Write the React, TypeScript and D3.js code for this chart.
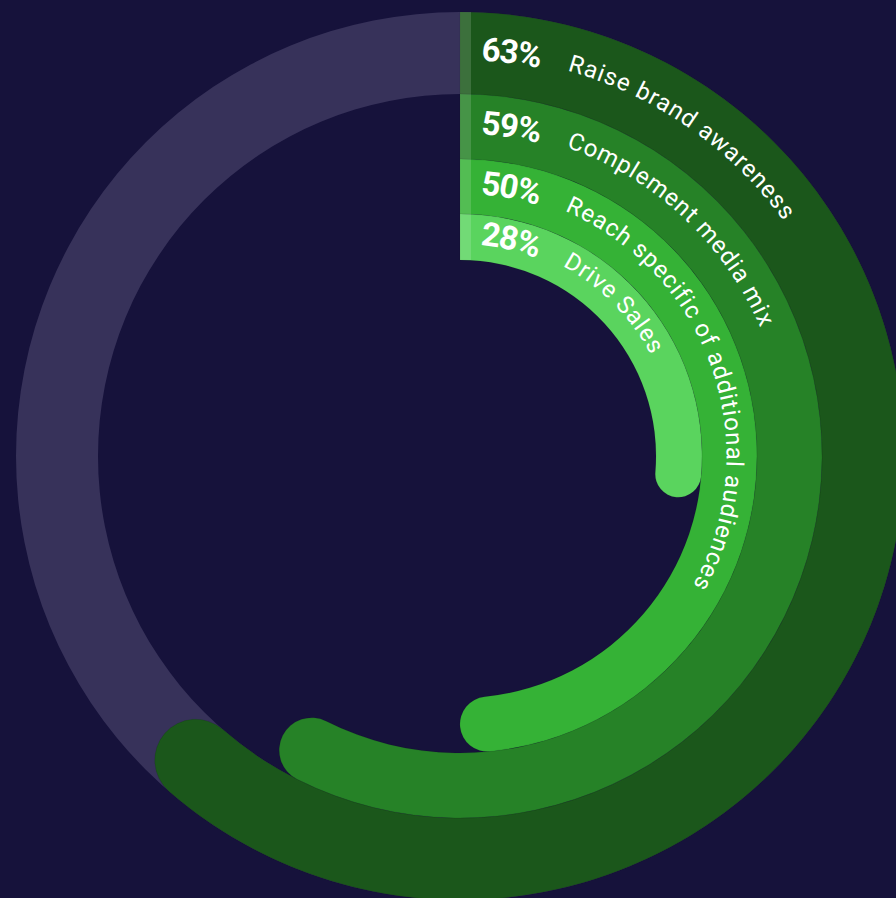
import React from "react";
import * as d3 from "d3";

// Objectives and the share of respondents choosing each one
const objectives = [
  "Raise brand awareness",
  "Complement media mix",
  "Reach specific of additional audiences",
  "Drive Sales",
];
const shares = [63, 59, 50, 28];
const ringColors = ["#1b571b", "#268227", "#35b236", "#5ad45e"];

// Geometry of the concentric bands
const WIDTH = 896;
const HEIGHT = 898;
const CX = 460;
const CY = 456;
const bandOuter = [444, 362, 297, 242];
const bandInner = [362, 297, 242, 196];

const BG = "#16123b";
const TRACK = "#37325a";

const angle = d3.scaleLinear().domain([0, 100]).range([0, 2 * Math.PI]);

// Band that starts flat at 12 o'clock and ends with a round cap inside its angle
function bandPath(inner: number, outer: number, value: number): string {
  const mid = (inner + outer) / 2;
  const half = (outer - inner) / 2;
  const end = angle(value) - half / mid;
  const phi0 = -Math.PI / 2;
  const phi1 = end - Math.PI / 2;
  const p = d3.path();
  p.moveTo(CX + outer * Math.cos(phi0), CY + outer * Math.sin(phi0));
  p.arc(CX, CY, outer, phi0, phi1, false);
  const capX = CX + mid * Math.cos(phi1);
  const capY = CY + mid * Math.sin(phi1);
  p.arc(capX, capY, half, phi1, phi1 + Math.PI, false);
  p.arc(CX, CY, inner, phi1, phi0, true);
  p.closePath();
  return p.toString();
}

function textPath(r: number): string {
  const p = d3.path();
  p.moveTo(CX, CY - r);
  p.arc(CX, CY, r, -Math.PI / 2, -Math.PI / 2 + 1.9 * Math.PI, false);
  return p.toString();
}

export default function App() {
  const track = d3
    .arc<any>()
    .innerRadius(bandInner[0])
    .outerRadius(bandOuter[0])
    .startAngle(0)
    .endAngle(2 * Math.PI);

  return (
    <svg
      width={WIDTH}
      height={HEIGHT}
      style={{ position: "absolute", left: 0, top: 0, display: "block" }}
    >
      <rect x={0} y={0} width={WIDTH} height={HEIGHT} fill={BG} />
      <path d={track({}) || ""} transform={`translate(${CX},${CY})`} fill={TRACK} />
      <defs>
        {shares.map((_, i) => (
          <path
            key={i}
            id={`label-path-${i}`}
            d={textPath((bandInner[i] + bandOuter[i]) / 2 + 5)}
            fill="none"
          />
        ))}
      </defs>
      {shares.map((v, i) => (
        <g key={i}>
          <path
            d={bandPath(bandInner[i], bandOuter[i], v)}
            fill={ringColors[i]}
            stroke="rgba(0,0,0,0.14)"
            strokeWidth={0.6}
          />
          <rect
            x={CX}
            y={CY - bandOuter[i]}
            width={11}
            height={bandOuter[i] - bandInner[i]}
            fill="#ffffff"
            opacity={0.15}
          />
        </g>
      ))}
      {shares.map((v, i) => (
        <g key={`t${i}`} fill="#ffffff" fontFamily="Roboto, 'Noto Sans', sans-serif">
          <text fontSize={33} fontWeight={700} letterSpacing={-0.8} dominantBaseline="central">
            <textPath href={`#label-path-${i}`} startOffset={22}>
              {`${v}%`}
            </textPath>
          </text>
          <text fontSize={24} letterSpacing={1.3} dominantBaseline="central">
            <textPath href={`#label-path-${i}`} startOffset={111}>
              {objectives[i]}
            </textPath>
          </text>
        </g>
      ))}
    </svg>
  );
}
